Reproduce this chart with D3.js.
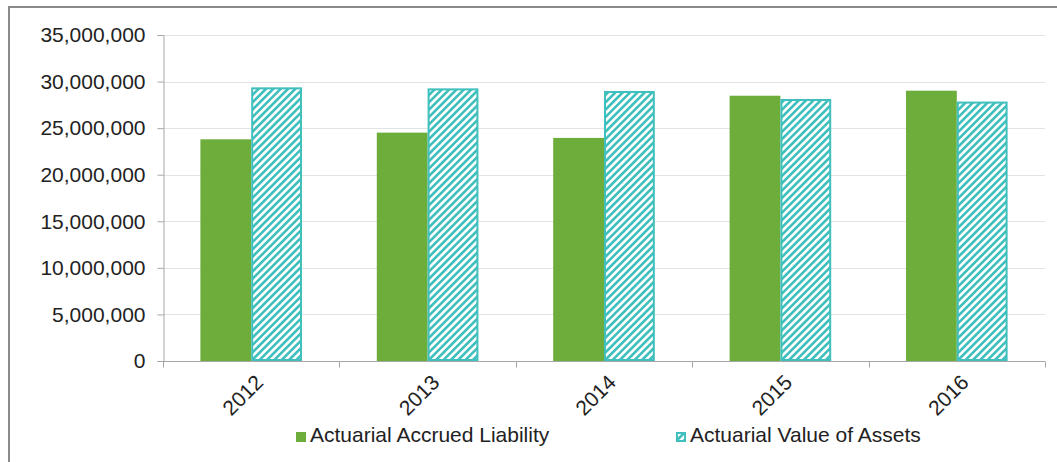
<!DOCTYPE html>
<html>
<head>
<meta charset="utf-8">
<script src="https://cdn.jsdelivr.net/npm/d3@7"></script>
<style>
  html, body { margin: 0; padding: 0; background: #fff; }
  svg { display: block; font-family: "Liberation Sans", Arial, sans-serif; }
</style>
</head>
<body>
<svg id="chart" width="1057" height="462"></svg>
<script>
// Plan valuation history, one group per year
const years = ["2012", "2013", "2014", "2015", "2016"];
const accruedLiability = [23800000, 24520000, 23950000, 28480000, 29020000];
const valueOfAssets = [29380000, 29270000, 28990000, 28130000, 27850000];
const seriesNames = ["Actuarial Accrued Liability", "Actuarial Value of Assets"];
const yTicks = [0, 5000000, 10000000, 15000000, 20000000, 25000000, 30000000, 35000000];

const GREEN = "#6DAD3C";
const TEAL = "#3FBFBD";
const FONT_SIZE = 21;

const svg = d3.select("#chart");
const W = 1057, H = 462;
const plot = { left: 163, right: 1045, top: 35, bottom: 361 };

// outer frame (top and left edges)
svg.append("line").attr("x1", 8).attr("x2", W).attr("y1", 7).attr("y2", 7)
  .attr("stroke", "#8a8a8a").attr("stroke-width", 2);
svg.append("line").attr("x1", 9).attr("x2", 9).attr("y1", 6).attr("y2", H)
  .attr("stroke", "#8a8a8a").attr("stroke-width", 2);

// diagonal hatch for the assets series
const defs = svg.append("defs");
const pat = defs.append("pattern")
  .attr("id", "hatch")
  .attr("patternUnits", "userSpaceOnUse")
  .attr("width", 5.2).attr("height", 5.2)
  .attr("patternTransform", "rotate(45)");
pat.append("rect").attr("width", 5.2).attr("height", 5.2).attr("fill", "#fff");
pat.append("rect").attr("x", 0).attr("y", 0).attr("width", 2.6).attr("height", 5.2).attr("fill", TEAL);

const x = d3.scaleBand().domain(years).range([plot.left, plot.right]).padding(0);
const y = d3.scaleLinear().domain([0, 35000000]).range([plot.bottom, plot.top]);
const barW = x.bandwidth() * 0.288;

// gridlines
svg.append("g").selectAll("line").data(yTicks.filter(d => d > 0)).join("line")
  .attr("x1", plot.left).attr("x2", plot.right)
  .attr("y1", d => Math.round(y(d)) + 0.5).attr("y2", d => Math.round(y(d)) + 0.5)
  .attr("stroke", "#e3e3e3").attr("stroke-width", 1);

// y axis
const fmt = d3.format(",");
const yAxis = svg.append("g").attr("transform", `translate(${plot.left + 0.5},0)`)
  .call(d3.axisLeft(y).tickValues(yTicks).tickFormat(fmt).tickSize(6).tickPadding(12));
yAxis.select(".domain").attr("stroke", "#a6a6a6");
yAxis.selectAll(".tick line").attr("stroke", "#a6a6a6");
yAxis.selectAll(".tick text").attr("font-size", FONT_SIZE).attr("fill", "#222")
  .attr("font-family", "'Liberation Sans', Arial, sans-serif");

// bars
const groups = svg.append("g").selectAll("g").data(years).join("g");
groups.append("rect")
  .attr("x", d => x(d) + x.bandwidth() / 2 - barW)
  .attr("width", barW)
  .attr("y", (d, i) => y(accruedLiability[i]))
  .attr("height", (d, i) => y(0) - y(accruedLiability[i]))
  .attr("fill", GREEN);
groups.append("rect")
  .attr("x", d => x(d) + x.bandwidth() / 2 + 1)
  .attr("width", barW - 2)
  .attr("y", (d, i) => y(valueOfAssets[i]) + 1)
  .attr("height", (d, i) => y(0) - y(valueOfAssets[i]) - 2)
  .attr("fill", "url(#hatch)")
  .attr("stroke", TEAL).attr("stroke-width", 2);

// x axis
const xAxis = svg.append("g").attr("transform", `translate(0,${plot.bottom + 0.5})`);
xAxis.append("line").attr("x1", plot.left).attr("x2", plot.right)
  .attr("stroke", "#a6a6a6");
const bounds = years.map(d => x(d)).concat([plot.right]);
xAxis.selectAll("line.tk").data(bounds).join("line").attr("class", "tk")
  .attr("x1", d => Math.round(d) + 0.5).attr("x2", d => Math.round(d) + 0.5)
  .attr("y1", 0).attr("y2", 6).attr("stroke", "#a6a6a6");
xAxis.selectAll("text").data(years).join("text")
  .attr("transform", d => `translate(${x(d) + x.bandwidth() / 2 + 8},${17}) rotate(-45)`)
  .attr("text-anchor", "end")
  .attr("dy", "0.35em")
  .attr("font-size", FONT_SIZE).attr("fill", "#222")
  .text(d => d);

// legend
const legend = svg.append("g");
const items = [
  { name: seriesNames[0], x: 296, fill: GREEN, stroke: "none" },
  { name: seriesNames[1], x: 676, fill: "url(#hatch)", stroke: TEAL }
];
items.forEach(it => {
  const g = legend.append("g").attr("transform", `translate(${it.x},432)`);
  g.append("rect").attr("x", it.stroke === "none" ? 0 : 1).attr("y", it.stroke === "none" ? 0 : 1)
    .attr("width", it.stroke === "none" ? 10 : 8).attr("height", it.stroke === "none" ? 10 : 8)
    .attr("fill", it.fill).attr("stroke", it.stroke).attr("stroke-width", 2);
  g.append("text").attr("x", 14).attr("y", 10).attr("font-size", FONT_SIZE).attr("fill", "#222")
    .text(it.name);
});
</script>
</body>
</html>
